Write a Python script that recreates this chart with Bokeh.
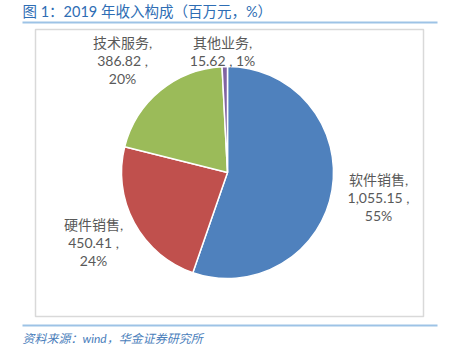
import math
from bokeh.plotting import figure
from bokeh.models import Range1d, ColumnDataSource
from bokeh.core.properties import value
from bokeh.embed import file_html
from bokeh.resources import INLINE

# ---- data ----
categories = ["软件销售", "硬件销售", "技术服务", "其他业务"]
amounts = [1055.15, 450.41, 386.82, 15.62]
percents = [55, 24, 20, 1]
colors = ["#4F81BD", "#C0504D", "#9BBB59", "#8064A2"]

title_text = "图 1：2019 年收入构成（百万元，%）"
source_text = "资料来源：wind，华金证券研究所"

W, H = 453, 360
p = figure(width=W, height=H, x_range=Range1d(0, W), y_range=Range1d(0, H),
           output_backend="svg", toolbar_location=None, min_border=0)
p.axis.visible = False
p.grid.visible = False
p.outline_line_color = None
p.background_fill_color = "white"

# frame
p.quad(left=[35], right=[423], bottom=[44], top=[331], fill_color="white",
       line_color="#D9D9D9", line_width=1.5)
# title rule lines
p.line([22, 437], [338, 338], line_color="#9DC3E6", line_width=2)
p.line([22, 437], [35, 35], line_color="#9DC3E6", line_width=2)

# pie
total = sum(amounts)
starts, ends = [], []
cum = 0.0
for a in amounts:
    starts.append(math.pi / 2 - 2 * math.pi * cum / total)
    cum += a
    ends.append(math.pi / 2 - 2 * math.pi * cum / total)
src = ColumnDataSource(dict(start=starts, end=ends, color=colors))
cx, cy, r = 227, 188, 106
p.wedge(x=cx, y=cy, radius=r, start_angle="start", end_angle="end",
        direction="clock", fill_color="color", line_color="white",
        line_width=1.5, source=src)

# labels
def fmt(a):
    return f"{a:,.2f}"

label_lines = []
for i, (c, a, pc) in enumerate(zip(categories, amounts, percents)):
    if i == 3:
        label_lines.append([c + ",", f"{fmt(a)} , {pc}%"])
    else:
        label_lines.append([c + ",", f"{fmt(a)} ,", f"{pc}%"])

label_pos = [(378, 181), (93, 136), (122, 318), (222, 318)]
font = value("Lato, Noto Sans CJK SC")
for lines, (lx, ly) in zip(label_lines, label_pos):
    xs = [lx] * len(lines)
    ys = [ly - 18 * k for k in range(len(lines))]
    p.text(x=xs, y=ys, text=lines, text_font=font, text_font_size="14px",
           text_color="#595959", text_align="center", text_baseline="middle")

# title
p.text(x=[22], y=[349], text=[title_text], text_font=font,
       text_font_size="14.5px", text_color="#2E6DB4", text_align="left",
       text_baseline="middle")
# source
p.text(x=[22], y=[22], text=[source_text], text_font=font,
       text_font_size="12px", text_font_style="italic", text_color="#4A7EBB",
       text_align="left", text_baseline="middle")

open("out.html", "w").write(file_html(p, INLINE))
